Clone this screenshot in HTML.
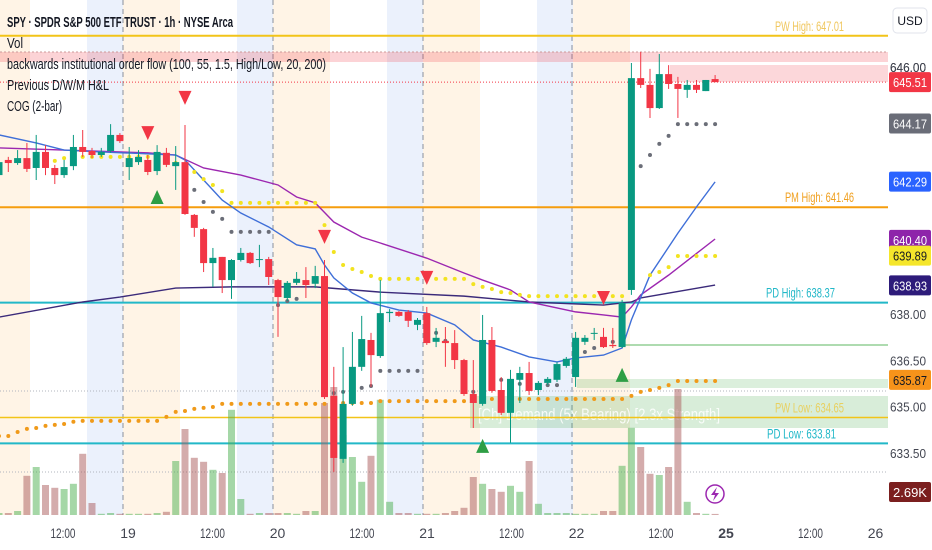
<!DOCTYPE html>
<html><head><meta charset="utf-8"><style>
html,body{margin:0;padding:0;background:#fff;}
svg{display:block;font-family:"Liberation Sans",sans-serif;}
</style></head><body>
<svg id="chart" width="932" height="550" viewBox="0 0 932 550" xmlns="http://www.w3.org/2000/svg">
<g id="bg"></g>
<g id="levels"></g>
<g id="vol"></g>
<g id="mas"></g>
<g id="dots"></g>
<g id="candles"></g>
<g id="signals"></g>
<g id="axis"></g>
<g id="taxis"></g>
<g font-size="15" fill="#131722">
<text x="7" y="27" font-weight="bold" textLength="226" lengthAdjust="spacingAndGlyphs">SPY · SPDR S&amp;P 500 ETF TRUST · 1h · NYSE Arca</text>
<text x="7" y="48" textLength="16" lengthAdjust="spacingAndGlyphs">Vol</text>
<text x="7" y="69" textLength="319" lengthAdjust="spacingAndGlyphs">backwards institutional order flow (100, 55, 1.5, High/Low, 20, 200)</text>
<text x="7" y="90" textLength="102" lengthAdjust="spacingAndGlyphs">Previous D/W/M H&amp;L</text>
<text x="7" y="111" textLength="55" lengthAdjust="spacingAndGlyphs">COG (2-bar)</text>
</g>
<g><rect x="893" y="8" width="34" height="25" rx="4" fill="#fff" stroke="#e0e3eb"/><text x="910" y="25" text-anchor="middle" font-size="12" fill="#131722">USD</text></g>
<g><circle cx="715" cy="494" r="9" fill="#fff" stroke="#9c27b0" stroke-width="1.5"/><path d="M717 487 L711 495 L715 495 L713 501 L719 493 L715 493 Z" fill="#9c27b0"/></g>
</svg>
<script>
const opens=[642.50,642.99,642.89,643.05,642.73,643.25,642.73,642.50,642.79,643.41,
643.28,643.15,643.28,643.80,642.76,642.92,642.99,642.63,643.22,642.79,
642.92,641.21,640.75,639.65,639.85,639.10,639.75,639.98,639.75,639.78,
639.10,638.52,639.01,639.10,638.98,639.23,635.35,633.31,635.09,636.29,
637.16,636.64,638.03,638.07,638.07,637.65,638.03,637.10,637.13,637.06,
636.51,635.41,635.09,637.16,635.54,634.80,635.87,636.09,635.54,635.77,
635.87,636.32,635.96,637.10,637.36,637.26,637.00,636.93,638.78,645.64,
645.42,644.67,645.77,645.45,645.26,645.42,645.22,645.61];
const highs=[643.15,643.09,643.31,643.54,643.80,643.47,642.83,642.99,643.80,643.96,
643.38,643.38,644.15,643.86,643.41,643.31,643.15,643.47,643.38,643.44,
644.12,641.24,640.79,640.14,639.85,639.78,640.14,640.01,640.24,639.85,
639.14,639.07,639.36,639.52,639.56,639.75,636.29,636.93,637.42,637.94,
637.39,639.10,638.16,638.10,638.13,637.87,638.23,637.55,637.58,637.48,
636.55,636.51,637.97,637.58,635.96,636.19,636.29,636.45,635.83,635.96,
636.45,636.61,637.42,637.32,637.55,637.55,637.55,638.46,646.13,646.49,
645.94,646.42,646.06,645.68,645.58,645.58,645.58,645.74];
const lows=[642.41,642.60,642.83,642.60,642.34,642.50,642.21,642.41,642.66,643.09,
643.05,643.09,643.22,643.54,642.34,642.83,642.50,642.50,642.76,642.02,
641.21,640.50,639.36,638.88,638.68,638.49,639.70,639.62,639.52,638.94,
637.26,638.42,638.94,638.52,638.84,635.25,632.89,633.18,635.03,636.16,
635.64,636.58,637.74,637.91,637.58,637.48,637.00,636.93,636.29,636.22,
635.35,634.31,635.03,635.45,634.73,633.83,635.12,635.38,635.38,635.70,
635.80,636.26,635.64,637.00,637.16,636.90,636.90,636.90,638.62,645.32,
644.35,644.64,645.29,644.35,645.00,645.16,645.22,645.51];
const closes=[642.92,642.89,643.05,642.70,643.25,642.73,642.50,642.76,643.41,643.25,
643.15,643.25,643.80,643.60,643.05,643.09,642.60,643.25,642.83,642.92,
641.24,640.79,639.65,639.82,639.10,639.75,639.98,639.65,639.78,639.20,
638.55,639.01,639.14,638.94,639.23,635.31,633.34,635.09,636.29,637.19,
636.67,638.03,638.07,637.94,637.78,637.81,637.06,637.23,637.06,636.51,
635.41,635.12,637.16,635.51,634.80,635.90,636.09,635.51,635.77,635.90,
636.38,636.55,637.23,637.23,637.39,636.93,636.96,638.36,645.64,645.42,
644.67,645.77,645.45,645.29,645.42,645.26,645.58,645.51];
const volumesK=[5,5,10,98,120,75,68,65,78,153,
30,3,5,3,3,3,3,5,8,135,
215,143,133,113,105,263,40,3,5,5,
5,5,3,10,10,280,320,200,145,83,
148,288,33,5,5,3,3,3,5,10,
18,95,78,65,58,73,58,135,28,5,
5,5,3,3,3,10,10,123,218,170,
103,100,120,315,33,5,3,2.69];
const N=null;
const yellowDots=[N,N,N,N,N,N,642.96,643.05,643.09,643.09,
643.09,643.09,643.09,643.09,643.09,643.09,643.09,643.09,643.09,642.89,
N,642.60,642.37,642.18,641.98,641.60,641.60,641.60,641.60,641.60,
641.60,641.60,641.60,641.60,641.60,640.88,640.01,639.59,639.46,639.36,
639.23,639.14,639.14,639.14,639.14,639.14,639.14,639.14,639.14,639.14,
639.14,638.97,638.88,638.81,638.71,638.68,638.62,638.58,638.58,638.58,
638.58,638.58,638.58,638.58,638.58,638.58,638.58,638.58,N,N,
639.26,639.36,639.52,639.88,639.88,639.88,639.88,639.88];
const grayDots=[N,N,N,N,N,N,N,N,N,N,
N,N,N,N,N,N,N,N,N,N,
N,642.02,641.63,641.31,641.08,640.66,640.66,640.66,640.66,640.66,
638.29,638.42,638.49,N,N,635.44,635.44,635.48,N,635.61,
635.67,636.16,636.16,636.16,636.16,636.16,N,637.39,637.13,N,
N,635.48,N,N,635.87,N,635.74,N,635.70,635.70,
635.70,N,636.51,636.77,636.90,N,637.10,N,N,642.79,
643.15,643.51,643.77,644.15,644.15,644.15,644.15,644.15];
const orangeDots=[634.05,634.05,634.18,634.28,634.31,634.38,634.41,634.44,634.51,634.54,
634.54,634.54,634.54,634.54,634.54,634.54,634.54,634.54,634.67,634.83,
634.86,634.93,634.96,634.99,635.09,635.09,635.09,635.09,635.09,635.09,
635.09,635.09,635.09,635.09,635.09,635.09,635.12,635.12,635.12,635.12,
635.12,635.18,635.18,635.18,635.18,635.18,635.18,635.18,635.18,635.18,
635.18,635.25,635.25,635.25,635.25,635.25,635.25,635.25,635.25,635.25,
635.25,635.25,635.25,635.25,635.25,635.25,635.25,635.25,635.35,635.48,
635.54,635.61,635.70,635.83,635.83,635.83,635.83,635.83];
const fastIdx=[0,4,7,11,19,20,22,24,26,29,32,34,35,36,38,40,43,46,49,51,54,57,60,62,65,67,68,70,73,75,77];
const fastVal=[643.80,643.54,643.31,643.25,643.15,642.99,642.34,641.69,641.27,640.82,640.24,640.11,639.59,639.17,638.68,638.36,638.13,638.03,637.65,637.16,636.93,636.61,636.45,636.58,636.67,636.90,637.81,639.26,640.62,641.47,642.28];
const midIdx=[0,7,16,19,22,26,30,32,34,36,39,41,46,50,52,55,57,62,65,67,68,69,72,77];
const midVal=[643.38,643.31,643.22,643.15,642.73,642.50,642.18,641.79,641.60,640.98,640.49,640.30,639.81,639.33,639.10,638.78,638.39,638.07,637.97,637.90,638.23,638.62,639.26,640.43];
const slowIdx=[0,9,13,19,25,34,41,50,57,65,68,69,77];
const slowVal=[637.90,638.39,638.55,638.84,638.88,638.88,638.71,638.58,638.39,638.29,638.39,638.52,638.94];
const downSigIdx=[16,20,35,46,65];
const downSigPrice=[643.86,645.00,640.50,639.17,638.52];
const upSigIdx=[17,52,67];
const upSigPrice=[641.79,633.73,636.03];
const levelNames=['PW High','PM High','PD High','PW Low','PD Low'];
const levelValues=[647.01,641.46,638.37,634.65,633.81];
const axisTicks=[646.00,638.00,636.50,635.00,633.50];
const timeLabels=['12:00','19','12:00','20','12:00','21','12:00','22','12:00','25','12:00','26'];

const NS='http://www.w3.org/2000/svg';
const PW=888;
function y(p){return 67+(646-p)*30.88;}
function x(i){return -1+9.3*i;}
function el(tag,attrs,parent){const e=document.createElementNS(NS,tag);for(const k in attrs)e.setAttribute(k,attrs[k]);parent.appendChild(e);return e;}
const g=id=>document.getElementById(id);

const bg=g('bg');
for(let d=-1;d<=3;d++){const D=123+150*d;
 let r=el('rect',{x:D,y:0,width:57,height:515,fill:'#fff4e6'},bg);
 
 
 if(d<3){let b=el('rect',{x:D+114,y:0,width:36,height:515,fill:'#ebf1fc'},bg);
 
 }
}
[123,273,423,572].forEach(v=>{let l=el('line',{x1:v,y1:0,x2:v,y2:515,stroke:'#8a8f9c','stroke-dasharray':'5,4','stroke-width':1},bg);
 
 });

const lv=g('levels');
let z=el('rect',{x:0,y:52,width:PW,height:10,fill:'rgba(242,54,69,0.22)'},lv);


el('line',{x1:0,y1:52,x2:PW,y2:52,stroke:'#c99','stroke-dasharray':'2,2'},lv);
z=el('rect',{x:670,y:65,width:PW-670,height:17,fill:'rgba(242,54,69,0.2)'},lv);


z=el('rect',{x:470,y:396,width:PW-470,height:32,fill:'rgba(76,175,80,0.22)'},lv);


z=el('rect',{x:577,y:379,width:PW-577,height:9,fill:'rgba(76,175,80,0.2)'},lv);


el('line',{x1:625,y1:345,x2:PW,y2:345,stroke:'rgba(76,175,80,0.45)','stroke-width':2},lv);
el('line',{x1:0,y1:391,x2:PW,y2:391,stroke:'#b2b5be','stroke-dasharray':'1,2'},lv);
el('line',{x1:0,y1:472,x2:PW,y2:472,stroke:'#b2b5be','stroke-dasharray':'1,2'},lv);
let t=el('text',{x:478,y:420,'font-size':17,fill:'rgba(255,255,255,0.85)',textLength:242,lengthAdjust:'spacingAndGlyphs'},lv);t.textContent='[Ch] Demand (5x Bearing) [2.3x Strength]';


const lvColors=['#f2c418','#f59d0e','#22b8c8','#f2c418','#22b8c8'];
const lvText=['#f0c75e','#f0a020','#22b8c8','#e8d060','#22b8c8'];
const lvLabelX=[775,785,766,775,767];
levelValues.forEach((v,k)=>{const yy=y(v);
 let l=el('line',{x1:0,y1:yy,x2:PW,y2:yy,stroke:lvColors[k],'stroke-width':k==3?1.5:2},lv);
 
 
 let tx=el('text',{x:lvLabelX[k],y:yy-5,'font-size':14,fill:lvText[k],textLength:69,lengthAdjust:'spacingAndGlyphs'},lv);
 tx.textContent=levelNames[k]+': '+v.toFixed(2);
 
 });
el('line',{x1:0,y1:y(645.51),x2:PW,y2:y(645.51),stroke:'#f23645','stroke-dasharray':'1,2'},lv);

const vg=g('vol');
volumesK.forEach((v,i)=>{const h=v*0.4;
 const up=closes[i]>=opens[i];
 let r=el('rect',{x:x(i)-3.5,y:515-h,width:7,height:h,fill:up?'rgba(76,175,80,0.5)':'rgba(170,90,90,0.5)'},vg);
 
 });

const mg=g('mas');
function poly(idx,val,color,name){const pts=idx.map((i,k)=>x(i)+','+y(val[k])).join(' ');
 let p=el('polyline',{points:pts,fill:'none',stroke:color,'stroke-width':1.4},mg);
 
 }
poly(slowIdx,slowVal,'#3b2a7a','ma-slow');
poly(midIdx,midVal,'#9c27b0','ma-mid');
poly(fastIdx,fastVal,'#3f6fd8','ma-fast');

const dg=g('dots');
function dots(arr,color,name){arr.forEach((v,i)=>{if(v===null)return;
 let c=el('circle',{cx:x(i),cy:y(v),r:2,fill:color},dg);
 
 });}
dots(orangeDots,'#f09a1a','cog-dot-orange');
dots(yellowDots,'#f2e320','cog-dot-yellow');
dots(grayDots,'#6b6e78','cog-dot-gray');

const cg=g('candles');
opens.forEach((o,i)=>{const c=closes[i];const up=c>=o;const col=up?'#089981':'#f23645';
 const cx=x(i);
 let w=el('line',{x1:cx,y1:y(highs[i]),x2:cx,y2:y(lows[i]),stroke:col,'stroke-width':1},cg);
 
 
 const top=y(Math.max(o,c)),bot=y(Math.min(o,c));
 let b=el('rect',{x:cx-3.5,y:top,width:7,height:Math.max(1,bot-top),fill:col},cg);
 
 });

const sg=g('signals');
downSigIdx.forEach((i,k)=>{const cx=x(i),cy=y(downSigPrice[k]);
 let p=el('polygon',{points:(cx-6.5)+','+(cy-7)+' '+(cx+6.5)+','+(cy-7)+' '+cx+','+(cy+7),fill:'#f23645'},sg);
 
 });
upSigIdx.forEach((i,k)=>{const cx=x(i),cy=y(upSigPrice[k]);
 let p=el('polygon',{points:(cx-6.5)+','+(cy+7)+' '+(cx+6.5)+','+(cy+7)+' '+cx+','+(cy-7),fill:'#2e9e45'},sg);
 
 });

const ag=g('axis');
el('rect',{x:PW,y:0,width:932-PW,height:550,fill:'#fff'},ag);
axisTicks.forEach(v=>{let tx=el('text',{x:926,y:y(v)+5,'font-size':13,fill:'#434651','text-anchor':'end',textLength:36,lengthAdjust:'spacingAndGlyphs'},ag);
 tx.textContent=v.toFixed(2);
 
 });
let tx0=el('text',{x:926,y:72,'font-size':13,fill:'#434651','text-anchor':'end',textLength:36,lengthAdjust:'spacingAndGlyphs'},ag);tx0.textContent='646.00';
const boxVals=['645.51','644.17','642.29','640.40','639.89','638.93','635.87'];
const boxCols=['#f23645','#6a6d78','#2962ff','#8e24aa','#f5e62b','#2d1b7a','#f7931a'];
boxVals.forEach((v,k)=>{const yy=y(parseFloat(v));
 let r=el('rect',{x:889,y:yy-10,width:42,height:20,rx:2,fill:boxCols[k]},ag);
 
 
 let tt=el('text',{x:910,y:yy+5,'font-size':13,fill:k==4||k==6?'#131722':'#fff','text-anchor':'middle',textLength:34,lengthAdjust:'spacingAndGlyphs'},ag);
 tt.textContent=v;});
let vb=el('rect',{x:889,y:482,width:42,height:20,rx:2,fill:'#7b1f1f'},ag);


let vt=el('text',{x:910,y:497,'font-size':13,fill:'#fff','text-anchor':'middle'},ag);vt.textContent=volumesK[volumesK.length-1].toFixed(2)+'K';

const tg=g('taxis');
timeLabels.forEach((s,k)=>{
 const pos=(k%2===0)?63+(k/2)*149.5:128+((k-1)/2)*149.5;
 const attrs={x:pos,y:538,'font-size':14,fill:'#434651','text-anchor':'middle','font-weight':s==='25'?'bold':'normal'};
 if(s==='12:00'){attrs.textLength=25;attrs.lengthAdjust='spacingAndGlyphs';}
 let tt=el('text',attrs,tg);
 tt.textContent=s;
 
 });
</script>
</body></html>
